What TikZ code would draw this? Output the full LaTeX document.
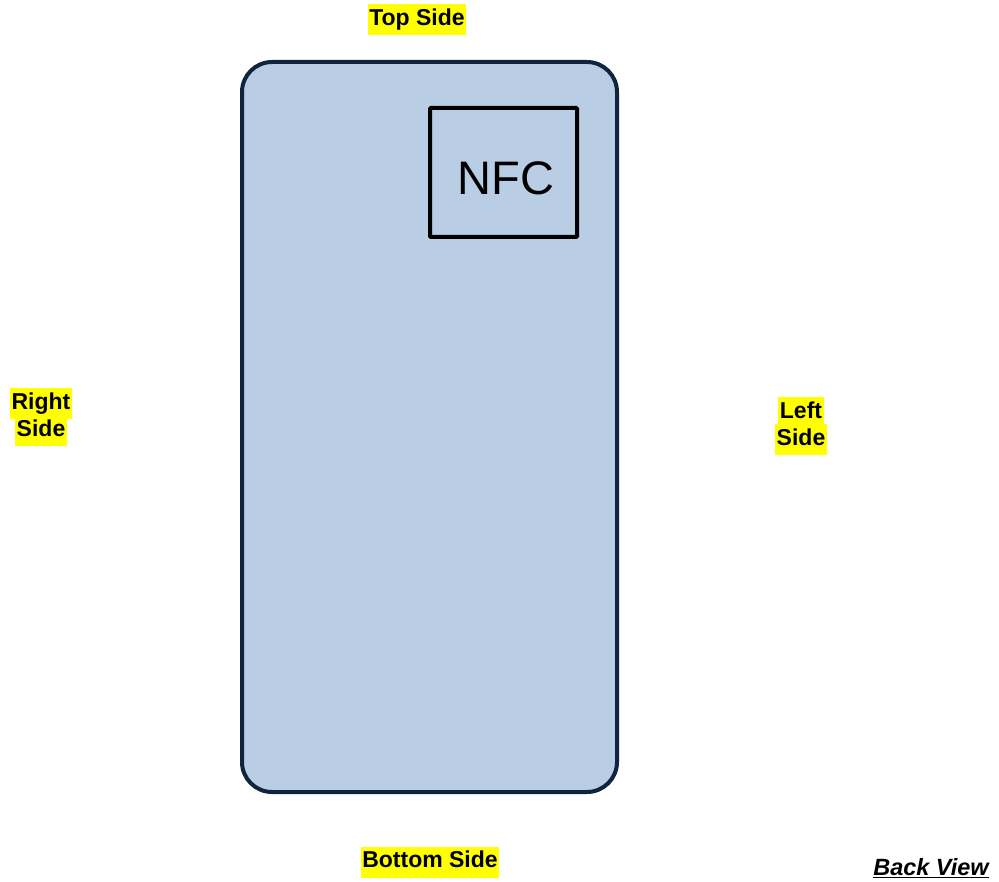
\documentclass[tikz,border=0pt]{standalone}
\usepackage{fontspec}
\setmainfont{Liberation Sans}
\usepackage{xcolor}
\definecolor{phonefill}{HTML}{B9CDE4}
\definecolor{phoneedge}{HTML}{10243F}
\definecolor{hlyellow}{HTML}{FFFF00}
\newcommand\hlword[1]{{\setlength\fboxsep{1.5pt}\colorbox{hlyellow}{\strut #1}}}
\begin{document}
\begin{tikzpicture}[x=1pt,y=-1pt,
  sidelabel/.style={inner sep=0pt,align=center,font=\fontsize{23}{28}\selectfont\bfseries},
  nfcbox/.style={draw=black,line width=4pt,rounded corners=1pt,minimum width=147pt,minimum height=129pt,inner sep=0pt},
  nfctext/.style={inner sep=0pt,font=\fontsize{47}{50}\selectfont}]
\useasboundingbox (0,0) rectangle (999,882);
\draw[fill=phonefill,draw=phoneedge,line width=4pt,rounded corners=30pt] (242,62) rectangle (617,792);
\node[nfcbox] (nfc) at (503.5,172.5) {};
\node[nfctext] (nfclabel) at (506,178) {NFC};
\node[sidelabel] (top) at (417,20) {\hlword{Top Side}};
\node[sidelabel] (bottom) at (430,862) {\hlword{Bottom Side}};
\node[sidelabel] (right) at (41,417) {\hlword{Right}\\[-5pt]\hlword{Side}};
\node[sidelabel] (left) at (801,426) {\hlword{Left}\\[-5pt]\hlword{Side}};
\node[inner sep=0pt,font=\fontsize{23.5}{28}\selectfont\bfseries\itshape] (back) at (931,868) {\underline{Back View}};
\end{tikzpicture}
\end{document}
